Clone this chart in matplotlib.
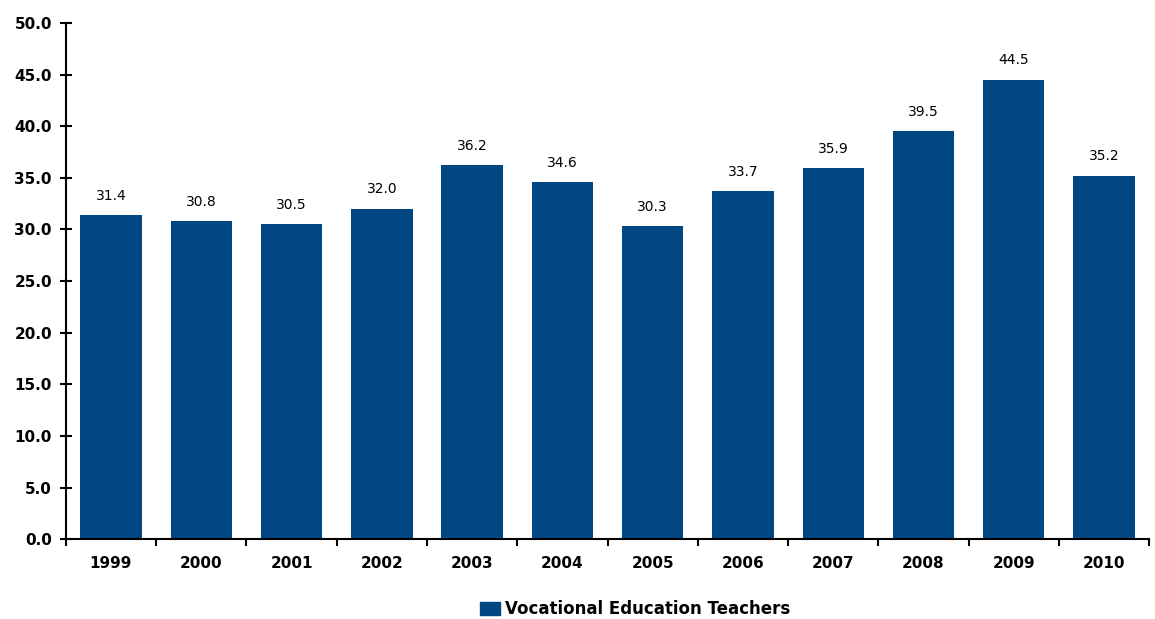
import numpy as np
import matplotlib
matplotlib.use('Agg')
import matplotlib.pyplot as plt
from matplotlib.patches import Patch

years = ['1999', '2000', '2001', '2002', '2003', '2004', '2005', '2006', '2007', '2008', '2009', '2010']
values = [31.4, 30.8, 30.5, 32.0, 36.2, 34.6, 30.3, 33.7, 35.9, 39.5, 44.5, 35.2]
series_name = 'Vocational Education Teachers'
bar_color = '#004680'

fig = plt.figure(figsize=(11.55, 6.19), dpi=100)
ax = fig.add_axes([0.057, 0.129, 0.938, 0.834])

x = np.arange(len(years))
ax.bar(x, values, width=0.68, color=bar_color)
for xi, v in zip(x, values):
    ax.text(xi, v + 1.2, '%.1f' % v, ha='center', va='bottom', fontsize=10)

ax.set_xlim(-0.5, len(years) - 0.5)
ax.set_ylim(0, 50)
ax.set_yticks(np.arange(0, 50.1, 5))
ax.set_yticklabels(['%.1f' % t for t in np.arange(0, 50.1, 5)], fontweight='bold', fontsize=11)
ax.set_xticks(x)
ax.set_xticklabels(years, fontweight='bold', fontsize=11)
ax.set_xticks(np.arange(-0.5, len(years), 1), minor=True)
ax.tick_params(axis='x', which='major', length=0, pad=12)
ax.tick_params(axis='x', which='minor', length=5, width=1.5, direction='out')
ax.tick_params(axis='y', length=8, width=1.5, direction='inout', pad=6)

ax.spines['top'].set_visible(False)
ax.spines['right'].set_visible(False)
ax.spines['bottom'].set_linewidth(1.5)
ax.spines['left'].set_linewidth(1.5)

fig.legend(handles=[Patch(color=bar_color, label=series_name)], loc='center',
           bbox_to_anchor=(0.55, 0.016), frameon=False, handlelength=1.2, handleheight=0.8,
           handletextpad=0.3, prop={'weight': 'bold', 'size': 12})

fig.savefig('out.png', dpi=100)
